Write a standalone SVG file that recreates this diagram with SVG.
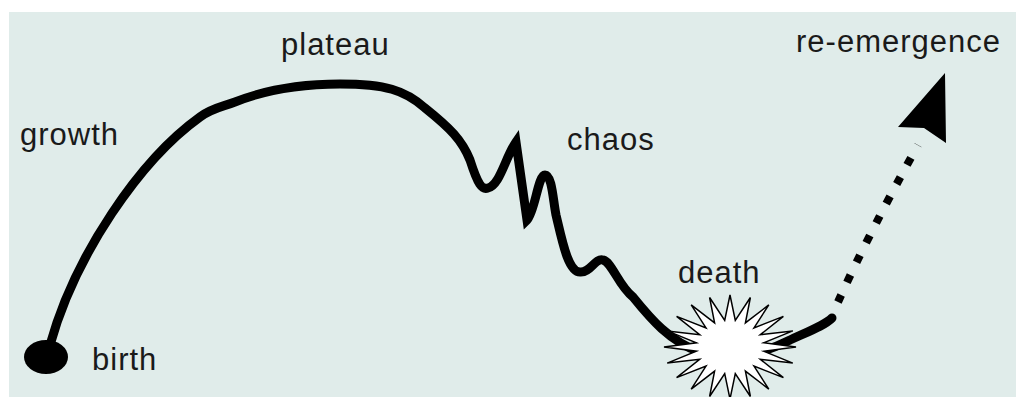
<svg xmlns="http://www.w3.org/2000/svg" width="1016" height="397" viewBox="0 0 1016 397">
<style>
.lbl{font-family:"Liberation Sans",Arial,sans-serif;font-size:31px;letter-spacing:1px;fill:#1a1a1a}
.curve{fill:none;stroke:#000;stroke-width:9;stroke-linecap:round}
</style>
<rect x="9" y="12" width="1007" height="385" fill="#e0ecea"/>
<g id="connectors">
<path class="curve" d="M 50,345 C 75,255 140,160 200,117 C 212,108 222,107 235,102 C 265,90 300,84 340,84 C 385,84 405,90 425,108 C 450,128 462,140 470,160 C 478,185 482,190 488,188 C 500,185 505,158 516,142 L 527,220 C 535,212 538,175 545,175 C 552,175 553,200 556,215 C 562,240 568,272 580,272 C 590,273 595,258 603,260 C 612,262 618,285 633,297 C 650,318 670,342 700,352 C 730,362 760,355 790,340 C 812,330 825,325 832,318" stroke-linejoin="miter" stroke-miterlimit="6"/>
<path d="M 838,302 Q 868,235 918,145" fill="none" stroke="#000" stroke-width="8" stroke-dasharray="8 14"/>
<polygon points="945,73 898,127 924,128 946,143" fill="#000"/>
</g>
<g id="birth">
<ellipse cx="46" cy="357" rx="22" ry="17" fill="#000"/>
<text class="lbl" x="92" y="370">birth</text>
</g>
<g id="growth"><text class="lbl" x="20" y="145">growth</text></g>
<g id="plateau"><text class="lbl" x="281" y="55">plateau</text></g>
<g id="chaos"><text class="lbl" x="567" y="150">chaos</text></g>
<g id="death">
<polygon fill="#fff" stroke="#000" stroke-width="1.5" stroke-linejoin="miter" points="796,347 763.6,351.2 792.8,363.1 760.3,359.3 783.4,377.6 754,366.1 768.8,389.1 745.4,371.1 750.4,396.5 735.3,373.7 730,399 724.7,373.7 709.6,396.5 714.6,371.1 691.2,389.1 706,366.1 676.6,377.6 699.7,359.3 667.2,363.1 696.4,351.2 664,347 696.4,342.8 667.2,330.9 699.7,334.7 676.6,316.4 706,327.9 691.2,304.9 714.6,322.9 709.6,297.5 724.7,320.3 730,295 735.3,320.3 750.4,297.5 745.4,322.9 768.8,304.9 754,327.9 783.4,316.4 760.3,334.7 792.8,330.9 763.6,342.8"/>
<text class="lbl" x="678" y="283">death</text>
</g>
<g id="re-emergence"><text class="lbl" x="796" y="52">re-emergence</text></g>
</svg>
